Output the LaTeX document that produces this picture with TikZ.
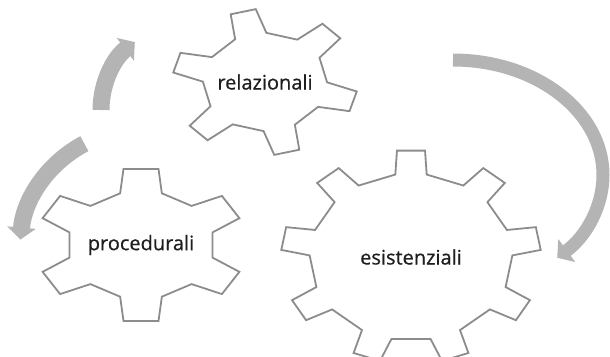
\documentclass[tikz,border=0pt]{standalone}
\usepackage{fontspec}
\setmainfont{Open Sans}
\newfontfamily\gearfont{Open Sans}[FakeBold=0.6]
\usepackage{tikz}
\usetikzlibrary{arrows.meta}
\definecolor{gearLine}{HTML}{8C8C8C}
\definecolor{turnGray}{HTML}{B4B4B4}
\definecolor{wordDark}{HTML}{1E1E1E}

% unit gear: #1 teeth, #2 first tooth angle, #3 root radius,
% #4 / #5 half angle of tooth tip / tooth root
\newcommand{\gearpath}[5]{%
  \draw[gearline] ({#2-#5}:#3)
    \foreach \k in {1,...,#1}{
      -- ({#2+(\k-1)*360/#1-#5}:#3) -- ({#2+(\k-1)*360/#1-#4}:1)
      -- ({#2+(\k-1)*360/#1+#4}:1) -- ({#2+(\k-1)*360/#1+#5}:#3)
    } -- cycle;}

\begin{document}
\begin{tikzpicture}[x=1pt, y=-1pt,
    gearline/.style={draw=gearLine, line width=1.8pt, line join=miter},
    gearname/.style={font=\gearfont\fontsize{20}{24}\selectfont, text=wordDark},
    turn/.style={draw=turnGray, line width=17pt,
                 -{Triangle[width=28pt, length=12pt]}},
]
\useasboundingbox (0,0) rectangle (610,356);

% Gear labels
\node[gearname] (rel)  at (265,82)  {relazionali};
\node[gearname] (proc) at (141,245) {procedurali};
\node[gearname] (esis) at (411,257) {esistenziali};

% Gear outlines
\begin{scope}[shift={(rel.center)}, x=1pt, y=1pt, cm={89,-19.5,26,70.7,(0,0)}]
  \gearpath{6}{0}{0.67}{8}{15}
\end{scope}
\begin{scope}[shift={(proc.center)}, x=1pt, y=1pt, cm={105,0,0,77,(0,0)}]
  \gearpath{6}{30}{0.70}{9.6}{16.5}
\end{scope}
\begin{scope}[shift={(esis.center)}, x=1pt, y=1pt, cm={130,0,0,107,(0,0)}]
  \gearpath{9}{90}{0.78}{6.2}{8.9}
\end{scope}

% Rotation arrows
\coordinate (arcUp)    at (101,110);
\coordinate (arcDown)  at (84.4,143.7);
\coordinate (arcRight) at (453,60);
\draw[turn] (arcUp) arc[start angle=180, end angle=233, radius=85];
\draw[turn] (arcDown) arc[start angle=-117.6, end angle=-175, radius=120];
\draw[turn, line width=13pt] (arcRight)
    arc[start angle=-90, end angle=46, x radius=150, y radius=115];
\end{tikzpicture}
\end{document}
